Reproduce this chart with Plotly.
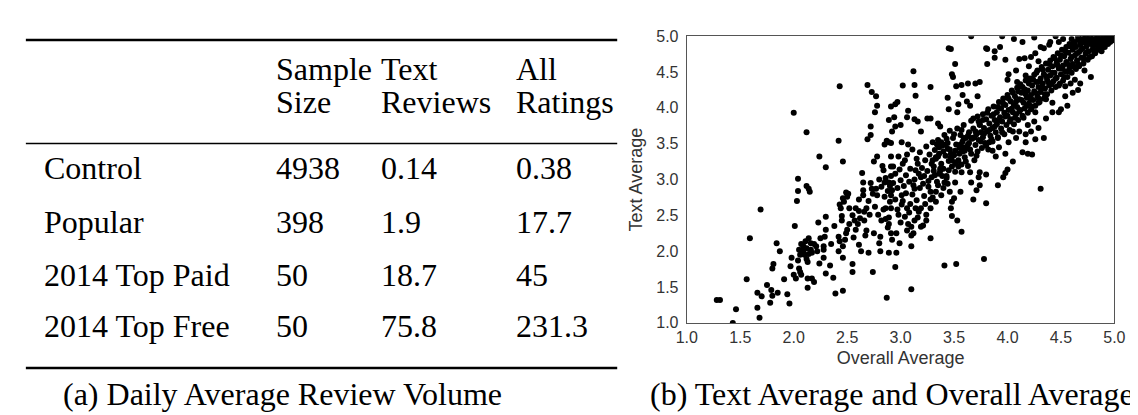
import plotly.graph_objects as go

# ---------------- table data ----------------
row_labels = ["Control", "Popular", "2014 Top Paid", "2014 Top Free"]
sample_size = ["4938", "398", "50", "50"]
text_reviews = ["0.14", "1.9", "18.7", "75.8"]
all_ratings = ["0.38", "17.7", "45", "231.3"]
header_line1 = ["Sample", "Text", "All"]
header_line2 = ["Size", "Reviews", "Ratings"]
caption_a = "(a) Daily Average Review Volume"
caption_b = "(b) Text Average and Overall Average"

# ---------------- scatter data (overall average, text average) ----------------
points_low = [
    (1.28, 1.32), (1.31, 1.32), (1.46, 1.19), (1.43, 1.00), (1.56, 1.61), (1.59, 2.18), (1.69, 2.58),
    (1.66, 1.42), (1.70, 1.37), (1.66, 1.21), (1.68, 1.07), (1.75, 1.53), (1.79, 1.46), (1.81, 1.82),
    (1.80, 1.76), (1.80, 1.38), (1.78, 1.28), (1.85, 1.42), (1.84, 2.11), (1.87, 2.00), (1.91, 1.61),
    (1.94, 1.40), (1.96, 1.27), (1.98, 1.91), (1.97, 1.79), (2.01, 2.35), (2.00, 3.93), (2.00, 1.67),
    (2.02, 1.62), (2.03, 2.70), (2.04, 2.84), (2.04, 3.01), (2.04, 1.87), (2.05, 1.76), (2.06, 1.71),
    (2.07, 1.67), (2.09, 2.02), (2.09, 2.07), (2.09, 1.98), (2.11, 2.14), (2.12, 3.66), (2.12, 2.91),
    (2.14, 2.87), (2.15, 2.83), (2.12, 1.89), (2.13, 1.85), (2.13, 1.62), (2.13, 1.49), (2.14, 2.18),
    (2.16, 2.11), (2.16, 2.02), (2.17, 1.98), (2.17, 1.62), (2.19, 1.57), (2.19, 2.10), (2.21, 2.07),
    (2.22, 2.00), (2.23, 2.40), (2.24, 3.32), (2.24, 1.83), (2.25, 2.18), (2.28, 2.02), (2.28, 2.07),
    (2.29, 2.20), (2.30, 3.17), (2.30, 2.48), (2.28, 1.91), (2.30, 1.69), (2.34, 1.80), (2.37, 1.63),
    (2.39, 1.41), (2.42, 3.54), (2.43, 4.30), (2.42, 2.20), (2.43, 2.14), (2.42, 2.00), (2.43, 2.65),
    (2.44, 2.60), (2.45, 2.49), (2.45, 2.43), (2.46, 3.25), (2.46, 1.45), (2.46, 2.74), (2.47, 2.69),
    (2.48, 2.16), (2.46, 2.07), (2.46, 1.91), (2.49, 2.82), (2.50, 2.76), (2.51, 2.80), (2.49, 2.25),
    (2.50, 2.30), (2.52, 2.38), (2.52, 2.60), (2.55, 1.82), (2.55, 1.71), (2.56, 2.19), (2.57, 2.43),
    (2.58, 2.60), (2.60, 2.38), (2.61, 2.56), (2.61, 2.72), (2.61, 2.09), (2.63, 2.00), (2.64, 3.09),
    (2.65, 2.96), (2.65, 2.85), (2.65, 2.78), (2.66, 2.43), (2.67, 2.22), (2.68, 2.29), (2.68, 2.60),
    (2.69, 4.32), (2.69, 3.56), (2.70, 1.98), (2.71, 2.51), (2.72, 3.74), (2.72, 3.62), (2.73, 4.22),
    (2.73, 2.87), (2.74, 2.80), (2.74, 1.71), (2.75, 2.25), (2.75, 3.25), (2.76, 3.94), (2.77, 4.16),
    (2.77, 2.87), (2.78, 4.03), (2.78, 3.32), (2.79, 2.51), (2.80, 3.00), (2.80, 2.11), (2.81, 2.00),
    (2.81, 2.20), (2.82, 2.43), (2.83, 3.19), (2.84, 3.13), (2.85, 3.49), (2.85, 2.96), (2.85, 2.76),
    (2.86, 2.45), (2.87, 1.35), (2.88, 2.33), (2.89, 3.83), (2.89, 1.98), (2.90, 2.69), (2.91, 3.51),
    (2.91, 3.05), (2.91, 4.02), (2.89, 3.52), (2.91, 3.32), (2.91, 3.18), (2.90, 2.91), (2.91, 2.78),
    (2.91, 2.60), (2.89, 2.47), (2.91, 2.25),
    (2.70, 2.70), (2.72, 2.95), (2.76, 2.62), (2.78, 2.78), (2.82, 2.90), (2.84, 2.58), (2.86, 3.02),
    (2.88, 2.84), (2.55, 2.50), (2.58, 2.30), (2.62, 2.46), (2.66, 2.55), (2.30, 2.30), (2.35, 2.10),
    (2.38, 2.35), (2.05, 2.02), (2.07, 2.10), (2.10, 1.95), (2.12, 2.04), (2.14, 1.96), (2.06, 1.95),
]

points_mid = [
    (3.45, 4.83), (3.47, 4.82), (3.51, 4.61), (3.48, 4.47), (3.49, 4.43), (3.12, 4.51), (3.02, 4.31),
    (3.13, 4.32), (3.14, 4.17), (3.28, 4.29), (2.97, 4.08), (2.95, 4.05), (3.07, 3.96), (2.94, 3.87),
    (3.06, 3.87), (3.13, 3.84), (3.16, 3.81), (3.25, 3.85), (3.28, 3.85), (2.95, 3.74), (3.19, 3.67),
    (3.35, 3.78), (3.37, 3.74), (3.44, 4.14), (3.45, 3.98), (3.53, 3.94), (3.54, 4.05), (3.52, 4.30),
    (3.57, 4.32), (3.63, 4.34), (3.62, 4.09), (3.58, 4.18), (3.70, 4.34), (3.74, 4.36), (3.72, 4.16),
    (3.65, 4.03), (3.80, 4.83), (3.81, 4.82), (3.88, 4.79), (3.93, 4.85), (3.88, 4.70), (3.81, 4.61),
    (3.98, 4.67), (4.01, 4.47), (4.00, 4.39), (4.06, 4.96), (4.14, 4.92), (4.08, 4.52), (4.09, 4.36),
    (4.11, 4.68), (4.16, 4.69), (4.17, 4.45), (4.22, 4.71), (4.20, 4.58), (4.26, 4.76), (4.34, 4.83),
    (4.31, 4.85), (4.29, 4.65), (4.39, 4.88), (4.40, 4.92), (4.48, 4.92), (4.52, 4.96), (4.60, 4.96),
    (4.66, 4.99), (4.74, 4.97), (4.81, 4.92), (4.84, 4.88), (4.90, 4.94), (4.95, 4.97), (4.98, 4.99),
    (4.72, 4.52), (4.68, 4.34), (4.63, 4.39), (4.59, 4.34), (4.54, 4.30), (4.56, 4.03), (4.50, 3.98),
    (4.48, 3.94), (4.42, 4.07), (4.36, 4.12), (4.29, 4.07), (4.26, 3.94), (4.25, 3.81), (4.19, 3.76),
    (4.17, 3.63), (4.11, 3.67), (4.22, 3.67), (4.29, 3.72), (4.34, 3.58), (4.26, 3.56), (4.14, 3.38),
    (4.19, 3.36), (4.23, 3.35), (4.05, 3.25), (4.00, 3.14), (3.98, 3.09), (3.96, 3.03), (3.91, 2.92),
    (4.31, 2.87), (3.80, 3.07), (3.80, 2.67), (3.74, 3.10), (3.73, 3.03), (3.74, 2.92), (3.71, 2.85),
    (3.68, 2.72), (3.66, 2.96), (3.65, 3.10), (3.57, 3.10), (3.56, 2.83), (3.53, 2.43), (3.57, 2.27),
    (3.50, 2.74), (3.48, 2.69), (3.47, 2.60), (3.41, 2.96), (3.39, 3.05), (3.44, 2.94), (3.33, 2.83),
    (3.28, 2.83), (3.28, 2.72), (3.41, 1.80), (3.52, 1.82), (3.78, 1.89), (3.28, 2.18), (3.24, 2.43),
    (3.19, 2.34), (3.21, 2.36), (3.16, 2.47), (3.13, 2.43), (3.10, 2.34), (3.10, 2.22), (3.12, 2.25),
    (3.10, 2.07), (3.10, 1.47), (2.99, 2.11), (3.06, 2.29), (2.96, 1.98), (2.95, 1.78), (3.14, 2.60),
    (3.08, 2.54), (3.06, 2.60), (3.01, 2.65), (2.95, 2.72), (2.92, 2.85), (3.01, 2.78), (3.13, 2.87),
    (3.13, 3.00), (3.14, 3.13), (3.16, 3.22), (3.19, 3.03), (3.22, 3.05), (3.29, 3.03), (3.31, 3.18),
    (3.35, 3.32), (3.36, 3.45), (3.38, 3.52), (3.42, 3.49), (3.44, 3.43), (3.47, 3.36), (3.48, 3.27),
    (3.51, 3.22), (3.54, 3.18), (3.51, 3.40), (3.56, 3.49), (3.59, 3.58), (3.60, 3.40), (3.63, 3.49),
    (3.66, 3.58), (3.70, 3.67), (3.74, 3.76), (3.77, 3.83), (4.05, 3.67), (4.08, 3.58), (3.91, 3.58),
    (3.83, 3.52), (3.86, 3.40), (3.89, 3.32), (3.92, 3.45), (3.98, 3.36), (4.01, 3.52), (4.17, 3.52),
    (4.36, 3.85), (4.42, 3.94), (4.54, 4.16), (4.61, 4.21), (4.66, 4.25), (4.78, 4.43), (3.48, 2.49),
    (3.46, 2.83), (3.51, 2.96), (3.38, 2.78), (3.33, 2.69), (3.28, 2.60), (3.24, 2.51), (3.19, 2.60),
    (2.98, 2.51), (2.96, 2.25), (2.92, 2.16), (2.89, 2.38), (2.86, 2.60), (2.89, 2.96), (2.93, 3.18),
    (2.98, 3.32), (3.04, 3.27), (3.07, 3.49), (3.01, 3.52), (2.87, 3.54), (3.00, 3.76), (2.92, 3.67),
    (3.66, 5.00), (3.95, 5.00), (4.25, 4.98), (4.45, 5.00),
    (2.93, 2.95), (2.95, 3.08), (2.97, 2.88), (2.99, 3.14), (3.00, 2.99), (3.02, 3.22), (3.03, 2.91),
    (3.05, 3.06), (3.06, 3.35), (3.08, 2.97), (3.09, 3.15), (3.11, 3.42), (3.12, 2.92), (3.15, 3.29),
    (3.17, 3.08), (3.18, 3.38), (3.20, 3.16), (3.21, 2.94), (3.23, 3.27), (3.24, 3.46), (3.25, 3.12),
    (3.26, 2.98), (3.27, 3.35), (3.29, 3.22), (3.30, 3.52), (3.32, 3.06), (3.33, 3.31), (3.34, 2.97),
    (3.02, 2.70), (3.05, 2.81), (3.09, 2.66), (3.11, 2.79), (3.15, 2.71), (3.18, 2.88), (3.22, 2.77),
    (3.26, 2.90), (2.97, 2.58), (3.00, 2.40), (3.04, 2.48), (3.07, 2.38), (3.17, 2.55), (3.23, 2.66),
    (3.30, 2.75), (3.35, 2.92), (3.37, 3.12), (3.40, 2.88), (3.43, 3.02),
]

points_band = [
    (3.31, 3.12), (3.32, 3.41), (3.33, 3.29), (3.35, 3.55), (3.36, 3.08), (3.36, 3.36), (3.38, 3.22),
    (3.39, 3.47), (3.40, 3.15), (3.41, 3.62), (3.42, 3.33), (3.43, 3.05), (3.44, 3.51), (3.45, 3.26),
    (3.46, 3.68), (3.46, 3.42), (3.48, 3.18), (3.49, 3.58), (3.50, 3.34), (3.51, 3.11), (3.52, 3.49),
    (3.53, 3.71), (3.54, 3.27), (3.55, 3.44), (3.56, 3.62), (3.57, 3.21), (3.58, 3.39), (3.58, 3.53),
    (3.59, 3.76), (3.60, 3.31), (3.61, 3.58), (3.62, 3.44), (3.63, 3.19), (3.64, 3.66), (3.64, 3.51),
    (3.66, 3.82), (3.66, 3.36), (3.67, 3.57), (3.68, 3.71), (3.69, 3.27), (3.70, 3.48), (3.71, 3.63),
    (3.72, 3.88), (3.72, 3.39), (3.73, 3.55), (3.74, 3.77), (3.75, 3.66), (3.76, 3.44), (3.77, 3.91),
    (3.77, 3.59), (3.78, 3.72), (3.79, 3.51), (3.80, 3.84), (3.81, 3.67), (3.82, 3.98), (3.82, 3.42),
    (3.83, 3.78), (3.84, 3.61), (3.85, 3.89), (3.86, 3.72), (3.86, 3.53), (3.87, 4.02), (3.88, 3.83),
    (3.89, 3.66), (3.90, 3.94), (3.90, 3.77), (3.91, 3.59), (3.92, 4.08), (3.93, 3.87), (3.94, 3.71),
    (3.94, 3.99), (3.95, 3.81), (3.96, 4.13), (3.97, 3.63), (3.97, 3.93), (3.98, 4.04), (3.99, 3.76),
    (4.00, 3.89), (4.00, 4.18), (4.01, 3.97), (4.02, 3.69), (4.03, 4.09), (4.03, 3.84), (4.04, 4.24),
    (4.05, 3.94), (4.06, 4.04), (4.06, 3.77), (4.07, 4.16), (4.08, 3.91), (4.09, 4.28), (4.09, 4.01),
    (4.10, 3.83), (4.11, 4.12), (4.12, 3.97), (4.12, 4.33), (4.13, 4.21), (4.14, 3.89), (4.15, 4.07),
    (4.16, 4.26), (4.16, 3.99), (4.17, 4.38), (4.18, 4.14), (4.19, 3.93), (4.19, 4.24), (4.20, 4.06),
    (4.21, 4.41), (4.22, 4.18), (4.22, 3.98), (4.23, 4.31), (4.24, 4.11), (4.25, 4.46), (4.25, 4.23),
    (4.26, 4.03), (4.27, 4.36), (4.28, 4.16), (4.28, 4.52), (4.29, 4.29), (4.30, 4.08), (4.31, 4.41),
    (4.31, 4.22), (4.32, 4.57), (4.33, 4.34), (4.34, 4.13), (4.34, 4.47), (4.35, 4.27), (4.36, 4.62),
    (4.37, 4.39), (4.37, 4.19), (4.38, 4.53), (4.39, 4.31), (4.40, 4.66), (4.40, 4.45), (4.41, 4.24),
    (4.42, 4.58), (4.43, 4.37), (4.43, 4.71), (4.44, 4.49), (4.45, 4.29), (4.46, 4.63), (4.46, 4.42),
    (4.47, 4.76), (4.48, 4.55), (4.49, 4.34), (4.49, 4.67), (4.50, 4.47), (4.51, 4.81), (4.52, 4.59),
    (4.52, 4.38), (4.53, 4.72), (4.54, 4.51), (4.55, 4.85), (4.55, 4.64), (4.56, 4.43), (4.57, 4.77),
    (4.58, 4.56), (4.58, 4.89), (4.59, 4.68), (4.60, 4.49), (4.61, 4.81), (4.61, 4.61), (4.62, 4.92),
    (4.63, 4.73), (4.64, 4.54), (4.64, 4.85), (4.65, 4.66), (4.66, 4.95), (4.67, 4.78), (4.67, 4.58),
    (4.68, 4.88), (4.69, 4.70), (4.70, 4.97), (4.70, 4.83), (4.71, 4.62), (4.72, 4.91), (4.73, 4.75),
    (4.73, 4.98), (4.74, 4.86), (4.75, 4.67), (4.76, 4.93), (4.76, 4.79), (4.77, 4.99), (4.78, 4.89),
    (4.79, 4.72), (4.79, 4.95), (4.80, 4.83), (4.81, 4.99), (4.82, 4.91), (4.82, 4.76), (4.83, 4.96),
    (4.84, 4.87), (4.85, 4.99), (4.85, 4.81), (4.86, 4.93), (4.87, 4.98), (4.88, 4.88), (4.88, 4.79),
    (4.89, 4.95), (4.90, 4.99), (4.91, 4.91), (4.91, 4.85), (4.92, 4.97), (4.93, 4.93), (4.94, 4.99),
    (4.94, 4.89), (4.95, 4.96), (4.96, 4.92), (4.97, 4.99), (4.97, 4.95), (4.98, 4.97), (4.99, 4.99),
    (5.00, 4.98),
    (3.30, 3.27), (3.34, 3.49), (3.37, 3.15), (3.40, 3.39), (3.43, 3.57), (3.45, 3.13), (3.47, 3.31),
    (3.50, 3.63), (3.52, 3.24), (3.55, 3.36), (3.57, 3.69), (3.59, 3.45), (3.61, 3.25), (3.63, 3.61),
    (3.65, 3.42), (3.68, 3.85), (3.69, 3.59), (3.71, 3.33), (3.73, 3.81), (3.75, 3.53), (3.78, 3.64),
    (3.80, 3.47), (3.81, 3.93), (3.83, 3.69), (3.85, 3.56), (3.87, 3.91), (3.88, 3.74), (3.91, 4.01),
    (3.92, 3.82), (3.95, 3.66), (3.96, 4.06), (3.98, 3.88), (4.01, 4.13), (4.02, 3.81), (4.04, 3.99),
    (4.05, 4.21), (4.07, 3.86), (4.08, 4.09), (4.10, 4.23), (4.11, 3.95), (4.13, 4.11), (4.14, 4.29),
    (4.15, 3.86), (4.17, 4.19), (4.18, 4.03), (4.20, 4.34), (4.21, 4.13), (4.23, 4.02), (4.24, 4.39),
    (4.26, 4.21), (4.27, 4.49), (4.29, 4.13), (4.30, 4.37), (4.32, 4.27), (4.33, 4.53), (4.35, 4.19),
    (4.36, 4.44), (4.38, 4.36), (4.39, 4.61), (4.41, 4.33), (4.42, 4.49), (4.44, 4.69), (4.45, 4.41),
    (4.47, 4.59), (4.48, 4.31), (4.50, 4.73), (4.51, 4.55), (4.53, 4.43), (4.54, 4.79), (4.56, 4.61),
    (4.57, 4.51), (4.59, 4.86), (4.60, 4.71), (4.62, 4.57), (4.63, 4.89), (4.65, 4.76), (4.66, 4.61),
    (4.68, 4.93), (4.69, 4.81), (4.71, 4.69), (4.72, 4.96), (4.74, 4.78), (4.75, 4.91), (4.77, 4.71),
    (4.78, 4.97), (4.80, 4.89), (4.81, 4.79), (4.83, 4.92), (4.84, 4.99), (4.86, 4.86), (4.87, 4.94),
    (4.89, 4.85), (4.90, 4.97), (4.92, 4.91), (4.93, 4.98), (4.95, 4.93), (4.96, 4.99), (4.98, 4.94),
    (4.99, 4.97),
]

all_points = points_low + points_mid + points_band
overall_avg = [p[0] for p in all_points]
text_avg = [p[1] for p in all_points]

# ---------------- figure ----------------
W, H = 1138, 415


def px(x):
    return x / W


def py(y):
    return 1 - y / H


SERIF = "Liberation Serif"
SANS = "Liberation Sans"
TS = 32

fig = go.Figure()
fig.add_trace(go.Scatter(
    x=overall_avg, y=text_avg, mode="markers",
    marker=dict(color="black", size=6, line=dict(width=0)),
    showlegend=False, hoverinfo="skip",
))

axis_common = dict(
    range=[1, 5], dtick=0.5, tick0=1, tickformat=".1f",
    showgrid=False, zeroline=False, showline=True, mirror=True,
    linecolor="#555555", linewidth=1.3, ticks="",
    tickfont=dict(family=SANS, size=16, color="#333333"),
)

fig.update_layout(
    width=W, height=H, margin=dict(l=0, r=0, t=0, b=0),
    paper_bgcolor="white", plot_bgcolor="white",
    xaxis=dict(domain=[px(681), px(1117)],
               title=dict(text="Overall Average", font=dict(family=SANS, size=18, color="#333333"), standoff=6),
               **axis_common),
    yaxis=dict(domain=[py(320), py(21)], ticklabelstandoff=4,
               title=dict(text="Text Average", font=dict(family=SANS, size=18, color="#333333"), standoff=8),
               **axis_common),
)

# table rules
for y, w in [(25, 2.6), (133, 1.5), (367, 2.6)]:
    fig.add_shape(type="line", xref="paper", yref="paper",
                  x0=px(7), x1=px(610), y0=py(y), y1=py(y),
                  line=dict(color="black", width=w))

col_x = [23, 260, 367, 505]
row_y = [158, 215, 270, 323]
header_y = [55, 90]


def add_text(text, x, y, anchor="left", yanchor="middle"):
    fig.add_annotation(text=text, x=px(x), y=py(y), xref="paper", yref="paper",
                       xanchor=anchor, yanchor=yanchor, showarrow=False,
                       font=dict(family=SERIF, size=TS, color="black"))


for i in range(3):
    add_text(header_line1[i], col_x[i + 1], header_y[0])
    add_text(header_line2[i], col_x[i + 1], header_y[1])

for r in range(4):
    add_text(row_labels[r], col_x[0], row_y[r])
    add_text(sample_size[r], col_x[1], row_y[r])
    add_text(text_reviews[r], col_x[2], row_y[r])
    add_text(all_ratings[r], col_x[3], row_y[r])

add_text(caption_a, 269, 415, anchor="center", yanchor="bottom")
add_text(caption_b, 890, 415, anchor="center", yanchor="bottom")

fig.write_html("out.html")
